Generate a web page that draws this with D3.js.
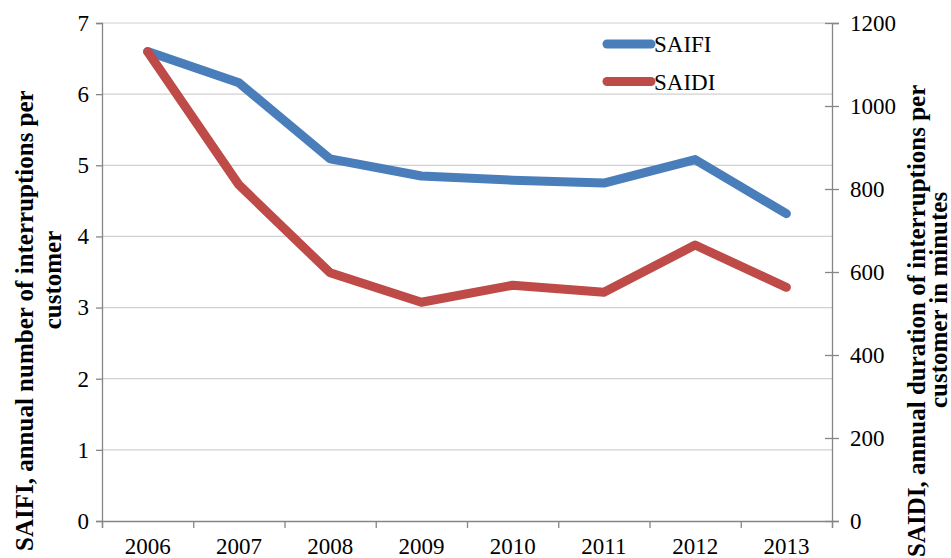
<!DOCTYPE html>
<html><head><meta charset="utf-8">
<script src="https://cdn.jsdelivr.net/npm/d3@7/dist/d3.min.js"></script>
<style>
body{margin:0;background:#fff;}
text{font-family:"Liberation Serif","Times New Roman",serif;}
</style></head>
<body><svg id="c" width="951" height="558"></svg>
<script>
const years = ["2006","2007","2008","2009","2010","2011","2012","2013"];
const saifi = [6.60, 6.16, 5.09, 4.85, 4.79, 4.75, 5.08, 4.32];
const saidi = [1131, 810, 598, 527, 568, 551, 665, 563];
const leftTicks = [0,1,2,3,4,5,6,7];
const rightTicks = [0,200,400,600,800,1000,1200];
const seriesNames = ["SAIFI","SAIDI"];
const colors = ["#4A7EBB","#BE4B48"];

const svg = d3.select("#c");
const L=102, R=832, T=23, B=521;
const x = d3.scaleBand().domain(years).range([L,R]);
const xb = d3.scaleLinear().domain([0,years.length]).range([L,R]);
const yL = d3.scaleLinear().domain([0,7]).range([B,T]);
const yR = d3.scaleLinear().domain([0,1200]).range([B,T]);
const cx = d => x(d)+x.bandwidth()/2;

// gridlines
svg.append("g").selectAll("line").data(leftTicks.filter(d=>d>0)).join("line")
  .attr("x1",L).attr("x2",R).attr("y1",d=>yL(d)).attr("y2",d=>yL(d))
  .attr("stroke","#D0D0D0").attr("stroke-width",1.2);

// left axis
const gl = svg.append("g").attr("transform",`translate(${L},0)`)
  .call(d3.axisLeft(yL).tickValues(leftTicks).tickSize(6).tickPadding(7).tickFormat(d3.format("d")));
// right axis
const gr = svg.append("g").attr("transform",`translate(${R},0)`)
  .call(d3.axisRight(yR).tickValues(rightTicks).tickSize(7).tickPadding(11).tickFormat(d3.format("d")));
gr.selectAll(".tick line").attr("x1",-7);
// bottom axis boundaries
const gb = svg.append("g").attr("transform",`translate(0,${B})`)
  .call(d3.axisBottom(xb).tickValues(d3.range(0,years.length+1)).tickSize(7).tickFormat(""));
const gbl = svg.append("g").attr("transform",`translate(0,${B})`)
  .call(d3.axisBottom(x).tickSize(0).tickPadding(17));
gbl.select(".domain").remove();

[gl,gr,gb,gbl].forEach(g=>{
  g.selectAll(".domain").attr("stroke","#868686").attr("stroke-width",1.3);
  g.selectAll(".tick line").attr("stroke","#868686").attr("stroke-width",1.3);
  g.selectAll("text").attr("font-family","Liberation Serif").attr("font-size",23).attr("fill","#000");
});

// lines
const data = [saifi, saidi];
const scales = [yL, yR];
data.forEach((vals,i)=>{
  const line = d3.line().x((d,j)=>cx(years[j])).y(d=>scales[i](d));
  svg.append("path").datum(vals).attr("d",line)
    .attr("fill","none").attr("stroke",colors[i]).attr("stroke-width",9)
    .attr("stroke-linejoin","round").attr("stroke-linecap","round");
});

// legend
const lg = svg.append("g");
seriesNames.forEach((n,i)=>{
  const yy = 44 + i*37.5;
  lg.append("line").attr("x1",607).attr("x2",651).attr("y1",yy).attr("y2",yy)
    .attr("stroke",colors[i]).attr("stroke-width",9).attr("stroke-linecap","round");
  lg.append("text").attr("x",654).attr("y",yy+8).attr("font-size",23).text(n);
});

// axis titles
const tl = svg.append("g").attr("font-weight","bold").attr("font-size",25);
tl.append("text").attr("transform","translate(33,551) rotate(-90)").attr("text-anchor","start")
  .text("SAIFI, annual number of interruptions per");
tl.append("text").attr("transform","translate(61,280) rotate(-90)").attr("text-anchor","middle")
  .text("customer");
tl.append("text").attr("transform","translate(925,557) rotate(-90)").attr("text-anchor","start")
  .text("SAIDI, annual duration of interruptions per");
tl.append("text").attr("transform","translate(947,300) rotate(-90)").attr("text-anchor","middle")
  .text("customer in minutes");
</script></body></html>
